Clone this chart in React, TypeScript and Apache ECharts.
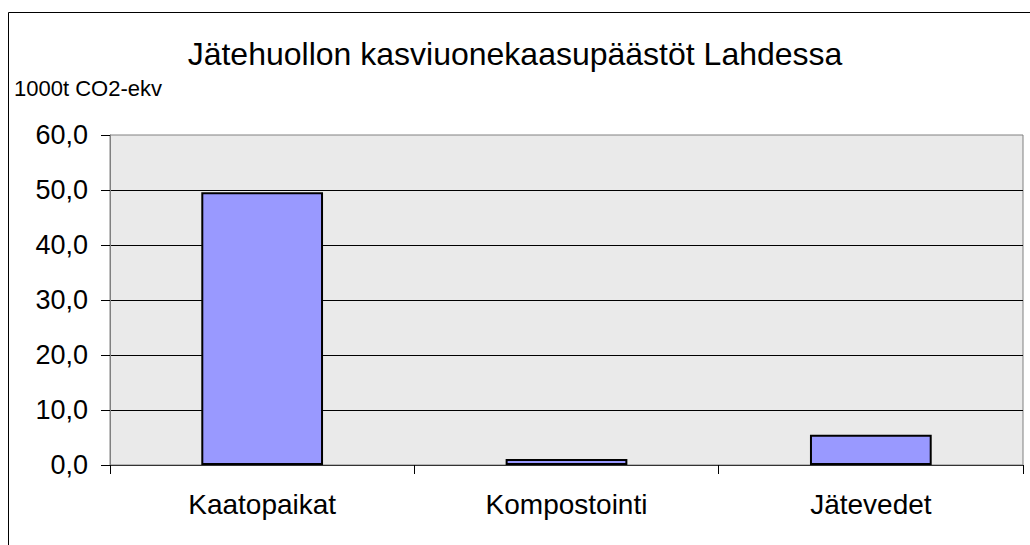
import React, { useEffect, useRef } from "react";
import * as echarts from "echarts";

const chartTitle = "Jätehuollon kasviuonekaasupäästöt Lahdessa";
const unitLabel = "1000t CO2-ekv";
const categories = ["Kaatopaikat", "Kompostointi", "Jätevedet"];
const emissions = [49.6, 1.1, 5.5];
const yMin = 0;
const yMax = 60;
const yStep = 10;

const FONT = "'Liberation Sans', Arial, sans-serif";

export default function App() {
  const ref = useRef<HTMLDivElement>(null);
  useEffect(() => {
    document.body.style.margin = "0";
    const chart = echarts.init(ref.current!, null, { renderer: "svg" });
    chart.setOption({
      animation: false,
      backgroundColor: "#ffffff",
      textStyle: { fontFamily: FONT, color: "#000" },
      title: {
        text: chartTitle,
        left: "center",
        top: 33,
        textStyle: { fontFamily: FONT, fontSize: 32, fontWeight: "normal", color: "#000" },
      },
      graphic: [
        {
          type: "rect",
          shape: { x: 8.5, y: 12.5, width: 1100, height: 700 },
          style: { fill: "none", stroke: "#000", lineWidth: 1 },
          silent: true,
        },
        {
          type: "text",
          left: 14,
          top: 77,
          style: { text: unitLabel, fontFamily: FONT, fontSize: 22, fill: "#000" },
        },
      ],
      grid: {
        left: 110,
        top: 135,
        right: 7,
        bottom: 80,
        show: true,
        backgroundColor: "#EAEAEA",
        borderColor: "#808080",
        borderWidth: 1,
      },
      xAxis: {
        type: "category",
        data: categories,
        boundaryGap: true,
        axisLine: { show: true, lineStyle: { color: "#333", width: 1 } },
        axisTick: { show: true, alignWithLabel: false, length: 9, lineStyle: { color: "#000" } },
        axisLabel: { fontFamily: FONT, fontSize: 28, color: "#000", margin: 25 },
        splitLine: { show: false },
      },
      yAxis: {
        type: "value",
        min: yMin,
        max: yMax,
        interval: yStep,
        axisLine: { show: true, lineStyle: { color: "#808080", width: 1 } },
        axisTick: { show: true, length: 9, lineStyle: { color: "#000" } },
        axisLabel: {
          fontFamily: FONT,
          fontSize: 27,
          color: "#000",
          margin: 22,
          formatter: (v: number) => v.toFixed(1).replace(".", ","),
        },
        splitLine: {
          show: true,
          showMinLine: false,
          showMaxLine: false,
          lineStyle: { color: "#000", width: 1 },
        },
      },
      series: [
        {
          type: "bar",
          data: emissions,
          barWidth: "40%",
          itemStyle: { color: "#9999FF", borderColor: "#000", borderWidth: 2 },
        },
      ],
    });
    return () => chart.dispose();
  }, []);
  return <div ref={ref} style={{ width: 1030, height: 545 }} />;
}
